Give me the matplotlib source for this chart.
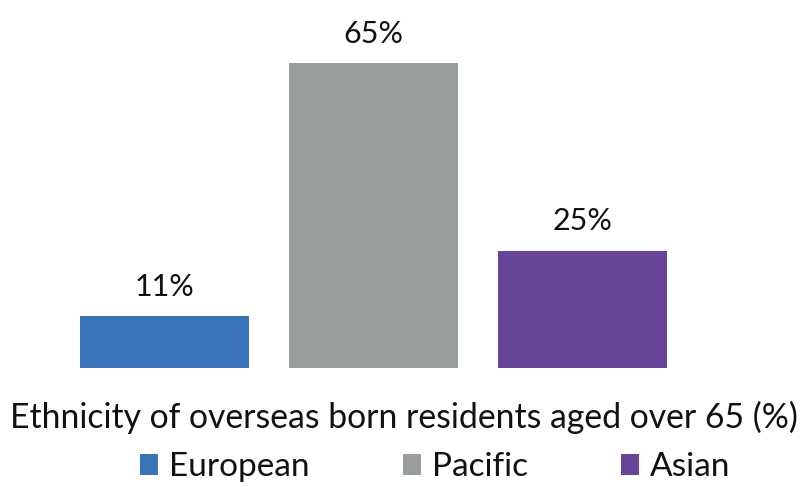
import matplotlib.pyplot as plt
from matplotlib.patches import Patch

plt.rcParams['font.family'] = ['Lato', 'DejaVu Sans']

# data
groups = ["European", "Pacific", "Asian"]
shares = [11, 65, 25]
colours = ["#3b73b9", "#999c9c", "#674598"]
title = "Ethnicity of overseas born residents aged over 65 (%)"

W, H = 801, 487
fig = plt.figure(figsize=(W / 100, H / 100), dpi=100)

# axes placed so the bars fall where they are in the picture
ax = fig.add_axes([60 / W, (H - 368) / H, 627 / W, 328 / H])
xs = range(len(groups))
bars = ax.bar(xs, shares, width=0.81, color=colours)
ax.set_xlim(-0.5, 2.5)
ax.set_ylim(0, 70)
ax.axis("off")

for b, v in zip(bars, shares):
    ax.annotate(f"{v}%", (b.get_x() + b.get_width() / 2, v),
                xytext=(0, 15), textcoords="offset points",
                ha="center", va="baseline", fontsize=22, color="#111111")

fig.text(404 / W, 1 - 428 / H, title, ha="center", va="baseline",
         fontsize=24.3, color="#111111")

handles = [Patch(facecolor=c, edgecolor="none") for c in colours]
fig.legend(handles, groups, loc="center", ncol=3,
           bbox_to_anchor=(435 / W, 1 - 467 / H), frameon=False,
           fontsize=24, columnspacing=2.8, handletextpad=0.33,
           handlelength=0.54, handleheight=0.6, borderpad=0,
           labelcolor="#111111")

fig.savefig("out.png", dpi=100)
